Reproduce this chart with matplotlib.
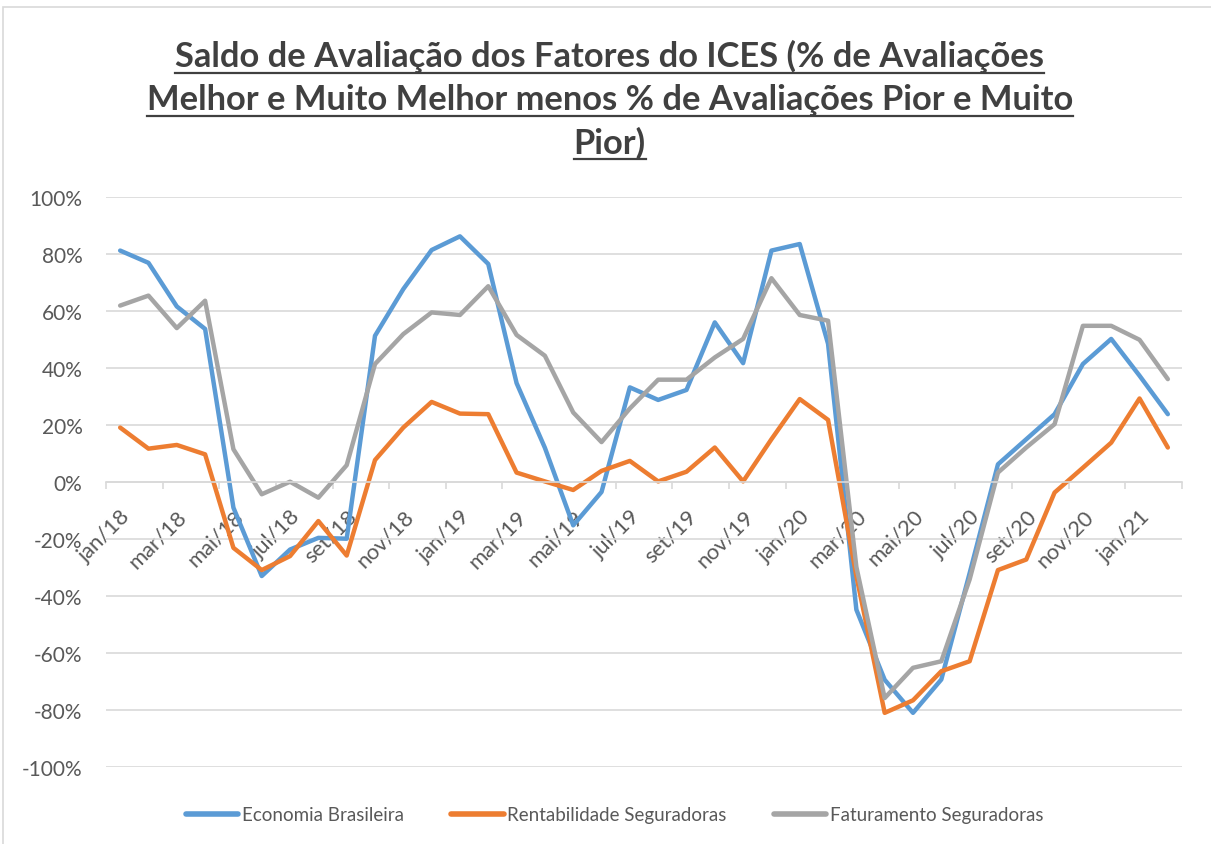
import numpy as np
import matplotlib

matplotlib.use("Agg")
import matplotlib.pyplot as plt
from matplotlib.lines import Line2D
from matplotlib.patches import Rectangle
from matplotlib.transforms import ScaledTranslation

# meses jan/18 .. fev/21
meses = ["jan/18", "fev/18", "mar/18", "abr/18", "mai/18", "jun/18", "jul/18", "ago/18",
         "set/18", "out/18", "nov/18", "dez/18", "jan/19", "fev/19", "mar/19", "abr/19",
         "mai/19", "jun/19", "jul/19", "ago/19", "set/19", "out/19", "nov/19", "dez/19",
         "jan/20", "fev/20", "mar/20", "abr/20", "mai/20", "jun/20", "jul/20", "ago/20",
         "set/20", "out/20", "nov/20", "dez/20", "jan/21", "fev/21"]

economia = [81.2, 76.9, 61.6, 53.7, -9.0, -33.0, -23.7, -19.6, -19.9, 51.3, 67.7, 81.4,
            86.2, 76.5, 34.7, 12.0, -15.2, -3.5, 33.2, 28.8, 32.3, 56.0, 41.7, 81.2,
            83.5, 48.5, -44.8, -69.4, -81.0, -69.3, -32.0, 6.2, 15.0, 23.8, 41.4, 50.2,
            37.3, 23.8]
rentabilidade = [19.1, 11.7, 13.0, 9.7, -23.1, -30.9, -26.0, -13.7, -25.8, 7.7, 19.1, 28.1,
                 24.0, 23.8, 3.3, 0.2, -2.8, 3.9, 7.4, 0.2, 3.6, 12.1, 0.2, 15.0,
                 29.1, 21.8, -33.0, -81.0, -76.6, -66.4, -62.9, -30.9, -27.2, -3.7, 5.0, 13.8,
                 29.3, 12.1]
faturamento = [61.9, 65.4, 54.0, 63.6, 11.5, -4.3, 0.1, -5.5, 5.9, 41.4, 51.9, 59.5,
               58.6, 68.7, 51.6, 44.3, 24.4, 14.0, 25.8, 35.9, 35.9, 43.7, 50.2, 71.5,
               58.6, 56.6, -29.8, -75.8, -65.2, -62.9, -34.2, 3.3, 12.1, 20.3, 54.8, 54.8,
               49.9, 36.1]

series = [
    ("Economia Brasileira", economia, "#5B9BD5"),
    ("Rentabilidade Seguradoras", rentabilidade, "#ED7D31"),
    ("Faturamento Seguradoras", faturamento, "#A5A5A5"),
]

titulo = ["Saldo de Avaliação dos Fatores do ICES (% de Avaliações",
          "Melhor e Muito Melhor menos % de Avaliações Pior e Muito",
          "Pior)"]

plt.rcParams["font.family"] = ["Lato", "DejaVu Sans"]
GRID = "#D9D9D9"
TXT = "#595959"

fig = plt.figure(figsize=(12.11, 8.45), dpi=100)
fig.patches.append(Rectangle((3 / 1211, -0.01), 1.0, 1 - 8 / 845 + 0.01,
                             transform=fig.transFigure, fill=False,
                             edgecolor=GRID, linewidth=1.2))

ax = fig.add_axes([106 / 1211, 1 - 768 / 845, 1076 / 1211, 570 / 845])
x = np.arange(len(meses))
for nome, vals, cor in series:
    ax.plot(x, vals, color=cor, linewidth=3.2, label=nome,
            solid_capstyle="round", solid_joinstyle="round")

ax.set_xlim(-0.5, len(meses) - 0.5)
ax.set_ylim(-100, 100)
ax.set_yticks(np.arange(-100, 101, 20))
ax.set_yticklabels([f"{v}%" for v in range(-100, 101, 20)])
ax.grid(axis="y", color=GRID, linewidth=1.2)
ax.set_axisbelow(True)

for s in ["top", "right", "left"]:
    ax.spines[s].set_visible(False)
ax.spines["bottom"].set_position(("data", 0))
ax.spines["bottom"].set_color(GRID)
ax.spines["bottom"].set_linewidth(1.2)

ax.set_xticks(x[::2])
ax.set_xticklabels(meses[::2], rotation=45, ha="right", va="center",
                   rotation_mode="anchor")
ax.set_xticks(np.arange(-0.5, len(meses), 2), minor=True)
ax.tick_params(axis="x", which="major", length=0, pad=22, labelsize=15.8, labelcolor=TXT)
ax.tick_params(axis="x", which="minor", length=5, color=GRID, width=1.2, direction="out")
ax.tick_params(axis="y", length=0, pad=17, labelsize=15, labelcolor=TXT)
# desloca os rótulos do eixo x um pouco para a direita, como no Excel
shift = ScaledTranslation(7 / 100, 0, fig.dpi_scale_trans)
for lab in ax.get_xticklabels():
    lab.set_transform(lab.get_transform() + shift)

leg = fig.legend(loc="center", bbox_to_anchor=(0.5075, 1 - 816 / 845), ncol=3,
                 frameon=False, fontsize=13.5, handlelength=2.8, handletextpad=0.2,
                 columnspacing=2.5, labelcolor=TXT)
for h in leg.get_lines():
    h.set_linewidth(4)
    h.set_solid_capstyle("round")

# título em três linhas, sublinhado
linhas_y = [56, 100, 143]
renderer = fig.canvas.get_renderer()
for texto, yp in zip(titulo, linhas_y):
    t = fig.text(0.5035, 1 - yp / 845, texto, ha="center", va="center",
                 fontsize=24.8, fontweight="bold", color="#404040")
    bb = t.get_window_extent(renderer=renderer)
    yl = (bb.y0 - 1) / fig.bbox.height
    fig.add_artist(Line2D([bb.x0 / fig.bbox.width, bb.x1 / fig.bbox.width], [yl, yl],
                          transform=fig.transFigure, color="#404040", linewidth=1.6))

fig.savefig("out.png", dpi=100)
